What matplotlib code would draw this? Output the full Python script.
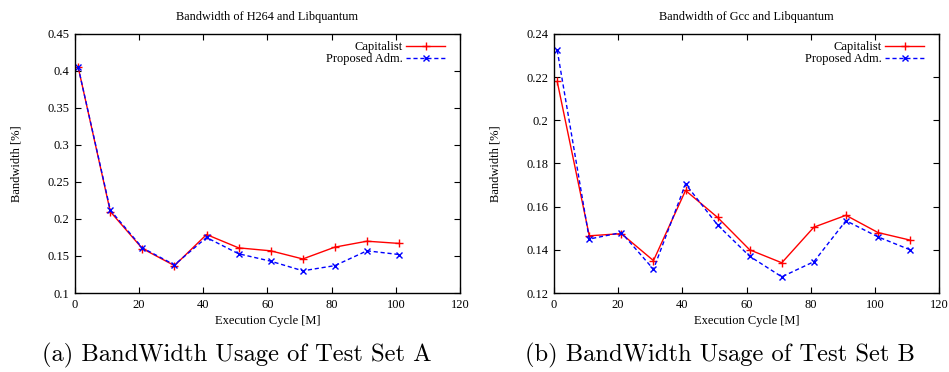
import matplotlib
matplotlib.use("Agg")
import matplotlib.pyplot as plt

# Data
xa = [1, 11, 21, 31, 41, 51, 61, 71, 81, 91, 101]
cap_a = [0.405, 0.210, 0.160, 0.137, 0.179, 0.161, 0.157, 0.146, 0.162, 0.170, 0.167]
prop_a = [0.405, 0.212, 0.161, 0.138, 0.175, 0.153, 0.143, 0.130, 0.137, 0.157, 0.152]

xb = [1, 11, 21, 31, 41, 51, 61, 71, 81, 91, 101, 111]
cap_b = [0.218, 0.1465, 0.1475, 0.135, 0.1675, 0.155, 0.140, 0.134, 0.1505, 0.156, 0.148, 0.1445]
prop_b = [0.2325, 0.145, 0.148, 0.131, 0.1705, 0.1515, 0.137, 0.1275, 0.1345, 0.1535, 0.146, 0.140]

titles = ["Bandwidth of H264 and Libquantum", "Bandwidth of Gcc and Libquantum"]
captions = ["(a) BandWidth Usage of Test Set A", "(b) BandWidth Usage of Test Set B"]
yticks_a = [0.1, 0.15, 0.2, 0.25, 0.3, 0.35, 0.4, 0.45]
yticks_b = [0.12, 0.14, 0.16, 0.18, 0.2, 0.22, 0.24]
xticks = [0, 20, 40, 60, 80, 100, 120]

plt.rcParams['font.family'] = ['Liberation Serif', 'DejaVu Serif']

W, H = 949, 372
fig = plt.figure(figsize=(W / 100, H / 100), dpi=100)

axes_px = [(75, 34, 460, 293), (554, 34, 939, 293)]
data = [(xa, cap_a, prop_a, yticks_a), (xb, cap_b, prop_b, yticks_b)]
caption_x = [237, 720]

for i, ((l, t, r, b), (x, c, p, yt)) in enumerate(zip(axes_px, data)):
    ax = fig.add_axes([l / W, 1 - b / H, (r - l) / W, (b - t) / H])
    ax.plot(x, c, color='#ff0000', lw=1.0, marker='+', ms=6, mew=1.0, label='Capitalist')
    ax.plot(x, p, color='#0000ff', lw=1.0, ls=(0, (3, 2)), marker='x', ms=5, mew=1.0,
            label='Proposed Adm.')
    ax.set_xlim(0, 120)
    ax.set_ylim(yt[0], yt[-1])
    ax.set_xticks(xticks)
    ax.set_yticks(yt)
    ax.set_yticklabels([('%g' % v) for v in yt])
    ax.tick_params(direction='in', top=True, right=True, length=4, width=0.8,
                   labelsize=9, pad=4)
    for s in ax.spines.values():
        s.set_linewidth(1.0)
    ax.set_title(titles[i], fontsize=8.8, pad=10)
    ax.set_xlabel('Execution Cycle [M]', fontsize=9, labelpad=3)
    ax.set_ylabel('Bandwidth [%]', fontsize=9, labelpad=18)
    leg = ax.legend(loc='upper right', bbox_to_anchor=(0.974, 0.992), frameon=False,
                    markerfirst=False, fontsize=9, handlelength=3.1, borderaxespad=0,
                    borderpad=0.4, labelspacing=0.0, handletextpad=0.3)
    for txt in leg.get_texts():
        txt.set_ha('right')
    fig.text(caption_x[i] / W, 1 - 355 / H, captions[i], ha='center', va='center',
             fontsize=17.7, family='cmr10')

fig.savefig('out.png', dpi=100)
